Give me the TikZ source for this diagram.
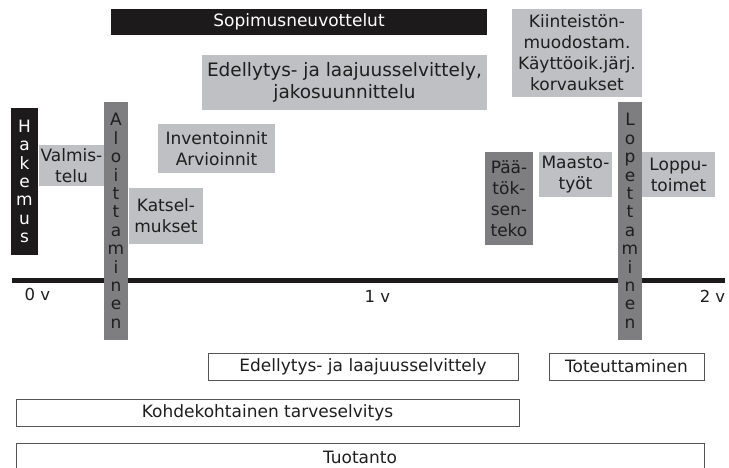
\documentclass[tikz,border=0pt]{standalone}
\usepackage{fontspec}
\setmainfont{DejaVu Sans}
\usepackage{tikz}
\definecolor{myblack}{HTML}{1C1A1A}
\definecolor{mylight}{HTML}{BFC0C3}
\definecolor{mydark}{HTML}{7E7E80}
\definecolor{mytext}{HTML}{1E1E1E}
\definecolor{myframe}{HTML}{555555}
\tikzset{
	box/.style={inner sep=0pt, align=center, text=mytext, font=\fontsize{17}{21}\selectfont},
	lightbox/.style={box, fill=mylight},
	darkbox/.style={box, fill=mydark},
	blackbox/.style={box, fill=myblack, text=white},
	upright/.style={font=\fontsize{17}{18.4}\selectfont},
	framebox/.style={box, draw=myframe, line width=1pt, font=\fontsize{17}{20}\selectfont},
	yearlabel/.style={text=mytext, inner sep=0pt, font=\fontsize{16.5}{20}\selectfont}
}

\begin{document}
\begin{tikzpicture}[x=1pt, y=-1pt]
				\useasboundingbox (0,0) rectangle (729,468);
				\coordinate (axstart) at (12,280);
				\coordinate (axend) at (725,280);
				\draw [line width=5pt, myblack] (axstart) -- (axend);
				\node [blackbox, minimum width=376pt, minimum height=26pt] (sopimus) at (299,22) {Sopimusneuvottelut};
				\node [lightbox, font=\fontsize{18.5}{22}\selectfont, minimum width=285pt, minimum height=55pt] (edellytys) at (344.5,82.5) {Edellytys- ja laajuusselvittely,\\jakosuunnittelu};
				\node [lightbox, minimum width=130pt, minimum height=88pt] (kiinteisto) at (577,53) {Kiinteistön-\\muodostam.\\Käyttöoik.järj.\\korvaukset};
				\node [blackbox, upright, minimum width=27pt, minimum height=147pt] (hakemus) at (24.5,181.5) {H\\a\\k\\e\\m\\u\\s};
				\node [lightbox, minimum width=65pt, minimum height=41pt] (valmistelu) at (71.5,165.5) {Valmis-\\telu};
				\node [darkbox, upright, minimum width=24pt, minimum height=238pt] (aloitus) at (116,221) {A\\l\\o\\i\\t\\t\\a\\m\\i\\n\\e\\n};
				\node [lightbox, minimum width=117pt, minimum height=49pt] (inventointi) at (216.5,148.5) {Inventoinnit\\Arvioinnit};
				\node [lightbox, minimum width=74pt, minimum height=56pt] (katselmus) at (166,216) {Katsel-\\mukset};
				\node [darkbox, minimum width=48pt, minimum height=93pt] (paatos) at (509,198.5) {Pää-\\tök-\\sen-\\teko};
				\node [lightbox, minimum width=73pt, minimum height=45pt] (maasto) at (575.5,174.5) {Maasto-\\työt};
				\node [darkbox, upright, minimum width=24pt, minimum height=238pt] (lopetus) at (630,221) {L\\o\\p\\e\\t\\t\\a\\m\\i\\n\\e\\n};
				\node [lightbox, minimum width=73pt, minimum height=45pt] (lopputoimet) at (678.5,174.5) {Loppu-\\toimet};
				\node [yearlabel] (v0) at (37.5,294) {0 v};
				\node [yearlabel] (v1) at (377.5,296) {1 v};
				\node [yearlabel] (v2) at (712.5,296) {2 v};
				\node [framebox, minimum width=310pt, minimum height=27pt] (selvittely) at (363,366.5) {Edellytys- ja laajuusselvittely};
				\node [framebox, minimum width=155pt, minimum height=27pt] (toteutus) at (626.5,366.5) {Toteuttaminen};
				\node [framebox, minimum width=503pt, minimum height=27pt] (tarve) at (267.5,412.5) {Kohdekohtainen tarveselvitys};
				\node [framebox, minimum width=688pt, minimum height=28pt] (tuotanto) at (360,457) {Tuotanto};
\end{tikzpicture}
\end{document}
